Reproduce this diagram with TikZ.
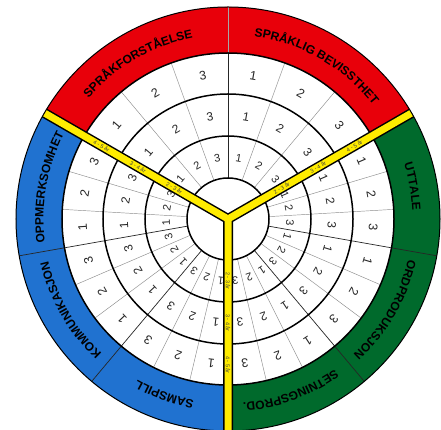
\documentclass[tikz,border=0pt]{standalone}
\usepackage{fontspec}
\setsansfont{Liberation Sans}
\usetikzlibrary{decorations.text}
\definecolor{hjulrod}{RGB}{232,0,10}
\definecolor{hjulgronn}{RGB}{0,106,44}
\definecolor{hjulbla}{RGB}{32,114,208}
\definecolor{hjulgul}{RGB}{255,236,0}
\tikzstyle{ring}=[black,line width=1.5pt]
\tikzstyle{deling}=[black!45,line width=0.45pt]
\tikzstyle{grense}=[black!85,line width=0.7pt]
\tikzstyle{bandkant}=[black,line width=10pt,line join=miter]
\tikzstyle{band}=[hjulgul,line width=7pt,line join=miter]
\tikzstyle{tall}=[font=\sffamily,inner sep=0pt,text=black!85]
\tikzstyle{alder}=[font=\sffamily\fontsize{5.5}{5.5}\selectfont,inner sep=0pt,text=black!75]
\newcommand{\hjultekst}[3]{\path[decorate,decoration={text along path,text align=center,
  text={|\sffamily\bfseries\fontsize{12}{12}\selectfont|#3}}] (#1:184.5) arc[start angle=#1,end angle=#2,radius=184.5];}

\begin{document}
\begin{tikzpicture}[x=1pt,y=1pt]
\useasboundingbox[fill=white] (-228,-211) rectangle (213,219);
\fill[hjulrod] (30:166) arc[start angle=30,end angle=150,radius=166] -- (150:212) arc[start angle=150,end angle=30,radius=212] -- cycle;
\fill[hjulgronn] (-90:166) arc[start angle=-90,end angle=30,radius=166] -- (30:212) arc[start angle=30,end angle=-90,radius=212] -- cycle;
\fill[hjulbla] (150:166) arc[start angle=150,end angle=270,radius=166] -- (270:212) arc[start angle=270,end angle=150,radius=212] -- cycle;
\fill[white] (0,0) circle[radius=166];
\foreach \a/\b [count=\s] in {90/150,30/90,-10/30,-50/-10,-90/-50,230/270,190/230,150/190}{
  \foreach \k in {1,2}{
    \pgfmathsetmacro\w{\a+\k*(\b-\a)/3}
    \draw[deling] (\w:41) -- (\w:166);
  }
  \foreach \ri/\ro/\fs [count=\r] in {41/83/11,83/125/12,125/166/12.5}{
    \foreach \k in {1,2,3}{
      \pgfmathsetmacro\v{\b-(\k-0.5)*(\b-\a)/3}
      \node[tall,font=\sffamily\fontsize{\fs}{\fs}\selectfont,rotate=\v-90] (t\r-\s-\k) at (\v:{(\ri+\ro)/2}) {\k};
    }
  }
}
\foreach \w in {-50,-10,190,230}
  \draw[grense] (\w:41) -- (\w:212);
\draw[grense] (90:41) -- (90:166);
\draw[black!35,line width=0.5pt] (90:166) -- (90:212);
\draw[ring] (0,0) circle[radius=41] (0,0) circle[radius=83] (0,0) circle[radius=125] (0,0) circle[radius=166];
\begin{scope}
\clip (0,0) circle[radius=212];
\draw[bandkant] (30:230) -- (0,0) -- (150:230) (0,0) -- (270:230);
\draw[band] (30:230) -- (0,0) -- (150:230) (0,0) -- (270:230);
\end{scope}
\draw[black,line width=1pt] (0,0) circle[radius=212];
\foreach \v/\rot in {30/30,150/-30,270/-90}{
  \foreach \rr/\txt [count=\i] in {62/{2 - 3 år},104/{3 - 4 år},146/{4 - 5 år}}
    \node[alder,rotate=\rot] (a\v-\i) at (\v:\rr) {\txt};
}
\hjultekst{150}{90}{SPRÅKFORSTÅELSE}
\hjultekst{90}{30}{SPRÅKLIG BEVISSTHET}
\hjultekst{30}{-10}{UTTALE}
\hjultekst{-10}{-50}{ORDPRODUKSJON}
\hjultekst{-50}{-90}{SETNINGSPROD.}
\hjultekst{270}{230}{SAMSPILL}
\hjultekst{230}{190}{KOMMUNIKASJON}
\hjultekst{190}{150}{OPPMERKSOMHET}
\end{tikzpicture}
\end{document}
